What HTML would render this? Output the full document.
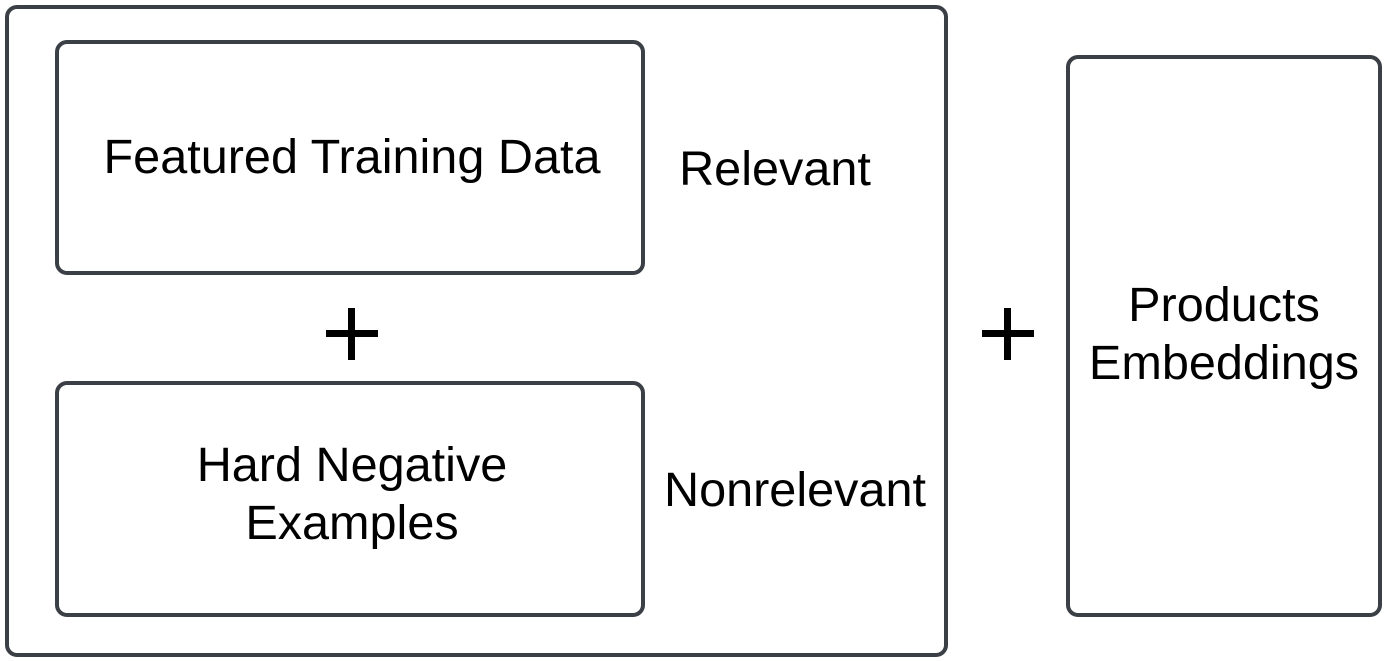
<!DOCTYPE html>
<html><head><style>
body{margin:0;width:1385px;height:661px;background:#fff;position:relative;overflow:hidden;font-family:"Liberation Sans",Arial,sans-serif;color:#000}
.b{position:absolute;border:4px solid #3b3f46;border-radius:12px;box-sizing:border-box}
.t{position:absolute;font-size:48.6px;line-height:58px;text-align:center;white-space:nowrap}
.h{position:absolute;background:#000}
</style></head><body>
<div class="b" style="left:5px;top:5px;width:943px;height:652px"></div>
<div class="b" style="left:55px;top:40px;width:590px;height:235px"></div>
<div class="b" style="left:55px;top:381px;width:590px;height:236px"></div>
<div class="b" style="left:1066px;top:55px;width:316px;height:562px"></div>
<div class="t" style="left:57px;width:590px;top:128px">Featured Training Data</div>
<div class="t" style="left:660px;width:230px;top:140px">Relevant</div>
<div class="t" style="left:57px;width:590px;top:436px">Hard Negative<br>Examples</div>
<div class="t" style="left:650px;width:290px;top:461px">Nonrelevant</div>
<div class="t" style="left:1066px;width:316px;top:276px">Products<br>Embeddings</div>
<div class="h" style="left:326px;top:330px;width:52px;height:7px"></div>
<div class="h" style="left:348px;top:308px;width:7px;height:52px"></div>
<div class="h" style="left:982px;top:330px;width:52px;height:7px"></div>
<div class="h" style="left:1004px;top:308px;width:7px;height:52px"></div>
</body></html>
